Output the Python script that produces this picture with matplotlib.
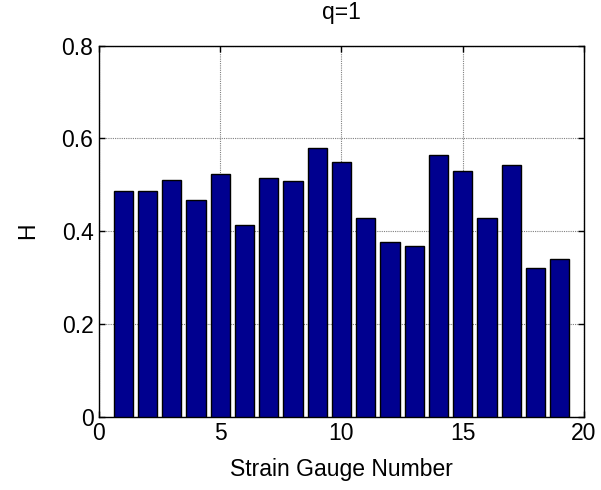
import matplotlib
matplotlib.use("Agg")
import matplotlib.pyplot as plt
import numpy as np

gauges = list(range(1, 20))
H = [0.486, 0.486, 0.510, 0.466, 0.523, 0.413, 0.515, 0.507, 0.580, 0.548,
     0.429, 0.377, 0.368, 0.563, 0.530, 0.429, 0.543, 0.320, 0.339]
xticks = [0, 5, 10, 15, 20]
yticks = [0, 0.2, 0.4, 0.6, 0.8]
ytick_labels = ["0", "0.2", "0.4", "0.6", "0.8"]

plt.rcParams['font.family'] = ['Liberation Sans', 'DejaVu Sans']
fs = 16.5

fig = plt.figure(figsize=(6.01, 4.90), dpi=100)
ax = fig.add_axes([0.1647, 0.150, 0.9717 - 0.1647, 0.907 - 0.150])

ax.bar(gauges, H, width=0.8, color='#00008F', edgecolor='black', linewidth=1.0, zorder=3)
ax.set_xlim(0, 20)
ax.set_ylim(0, 0.8)
ax.set_xticks(xticks)
ax.set_yticks(yticks)
ax.set_yticklabels(ytick_labels)
ax.grid(True, color='#808080', linestyle=(0, (1, 1)), linewidth=0.8, zorder=0)
ax.set_axisbelow(True)
ax.tick_params(direction='in', top=True, right=True, length=4, width=1,
               labelsize=fs, pad=4)
for s in ax.spines.values():
    s.set_linewidth(1.0)
ax.set_title("q=1", fontsize=fs, pad=19)
ax.set_xlabel("Strain Gauge Number", fontsize=fs, labelpad=9)
ax.set_ylabel("H", fontsize=fs, labelpad=16)

fig.savefig("out.png", dpi=100)
